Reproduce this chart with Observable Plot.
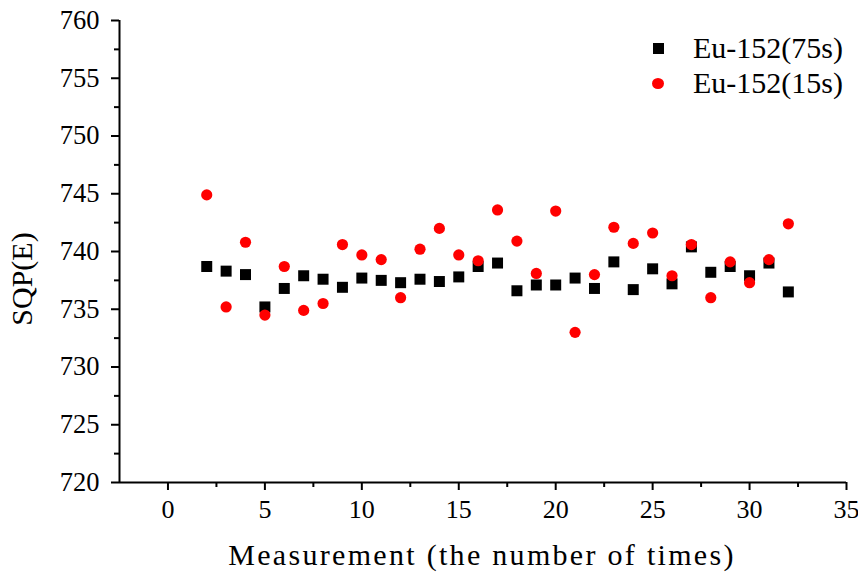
<!DOCTYPE html>
<html>
<head>
<meta charset="utf-8">
<script src="https://cdn.jsdelivr.net/npm/d3@7"></script>
<script src="https://cdn.jsdelivr.net/npm/@observablehq/plot@0.6"></script>
<style>
  html, body { margin: 0; padding: 0; background: #fff; }
  #wrap { position: relative; width: 858px; height: 573px; font-family: "Liberation Serif", "Times New Roman", serif; }
  #ylabel { position: absolute; left: 22px; top: 279px; transform: translate(-50%, -50%) rotate(-90deg); font-size: 30px; white-space: nowrap; color: #000; }
  #xlabel { position: absolute; left: 482px; top: 540px; transform: translateX(-50%); font-size: 30px; line-height: 30px; letter-spacing: 2.3px; white-space: nowrap; color: #000; }
  .leg { position: absolute; left: 640px; display: flex; align-items: center; height: 34px; font-size: 30px; color: #000; }
  .leg .sw { width: 36px; display: flex; justify-content: center; margin-right: 17px; }
</style>
</head>
<body>
<div id="wrap"></div>
<script>
const measurement = [2,3,4,5,6,7,8,9,10,11,12,13,14,15,16,17,18,19,20,21,22,23,24,25,26,27,28,29,30,31,32];
const sqp75 = [738.7,738.3,738.0,735.2,736.8,737.9,737.6,736.9,737.7,737.5,737.3,737.6,737.4,737.8,738.7,739.0,736.6,737.1,737.1,737.7,736.8,739.1,736.7,738.5,737.2,740.4,738.2,738.7,737.9,739.0,736.5];
const sqp15 = [744.9,735.2,740.8,734.5,738.7,734.9,735.5,740.6,739.7,739.3,736.0,740.2,742.0,739.7,739.2,743.6,740.9,738.1,743.5,733.0,738.0,742.1,740.7,741.6,737.9,740.6,736.0,739.1,737.3,739.3,742.4];
const seriesNames = ["Eu-152(75s)", "Eu-152(15s)"];
const xDomain = [-2.5, 35];
const yDomain = [720, 760];
const xMajor = [0,5,10,15,20,25,30,35];
const xMinor = [2.5,7.5,12.5,17.5,22.5,27.5,32.5];
const yMajor = [720,725,730,735,740,745,750,755,760];
const yMinor = [722.5,727.5,732.5,737.5,742.5,747.5,752.5,757.5];
const xTitle = "Measurement (the number of times)";
const yTitle = "SQP(E)";

const d75 = measurement.map((m, i) => ({m, v: sqp75[i]}));
const d15 = measurement.map((m, i) => ({m, v: sqp15[i]}));

const chart = Plot.plot({
  width: 858,
  height: 573,
  marginLeft: 119,
  marginRight: 12,
  marginTop: 20,
  marginBottom: 91,
  style: {fontFamily: "'Liberation Serif', 'Times New Roman', serif", fontSize: "26px", color: "#000", background: "#fff"},
  x: {domain: xDomain},
  y: {domain: yDomain},
  marks: [
    Plot.axisX({ticks: xMajor, tickSize: 8, tickPadding: 9, strokeWidth: 2, fontSize: 26, label: null}),
    Plot.axisX({ticks: xMinor, tickSize: 5, strokeWidth: 2, text: null, label: null}),
    Plot.axisY({ticks: yMajor, tickSize: 8, tickPadding: 12, strokeWidth: 2, fontSize: 26.5, label: null}),
    Plot.axisY({ticks: yMinor, tickSize: 5, strokeWidth: 2, text: null, label: null}),
    Plot.ruleX([xDomain[0]], {stroke: "#000", strokeWidth: 2}),
    Plot.ruleY([yDomain[0]], {stroke: "#000", strokeWidth: 2}),
    Plot.dot(d75, {x: "m", y: "v", symbol: "square", r: 6.2, fill: "#000", stroke: "none"}),
    Plot.dot(d15, {x: "m", y: "v", symbol: "circle", r: 5.6, fill: "#ff0000", stroke: "none"})
  ]
});
const wrap = document.getElementById("wrap");
wrap.appendChild(chart);

const xl = document.createElement("div");
xl.id = "xlabel";
xl.textContent = xTitle;
wrap.appendChild(xl);

const yl = document.createElement("div");
yl.id = "ylabel";
yl.textContent = yTitle;
wrap.appendChild(yl);

const swatches = [
  '<div style="width:11px;height:11px;background:#000"></div>',
  '<div style="width:12px;height:11px;border-radius:50%;background:#ff0000"></div>'
];
seriesNames.forEach((name, i) => {
  const row = document.createElement("div");
  row.className = "leg";
  row.style.top = (31 + i * 35) + "px";
  row.innerHTML = '<div class="sw">' + swatches[i] + '</div><span>' + name + '</span>';
  wrap.appendChild(row);
});
</script>
</body>
</html>
